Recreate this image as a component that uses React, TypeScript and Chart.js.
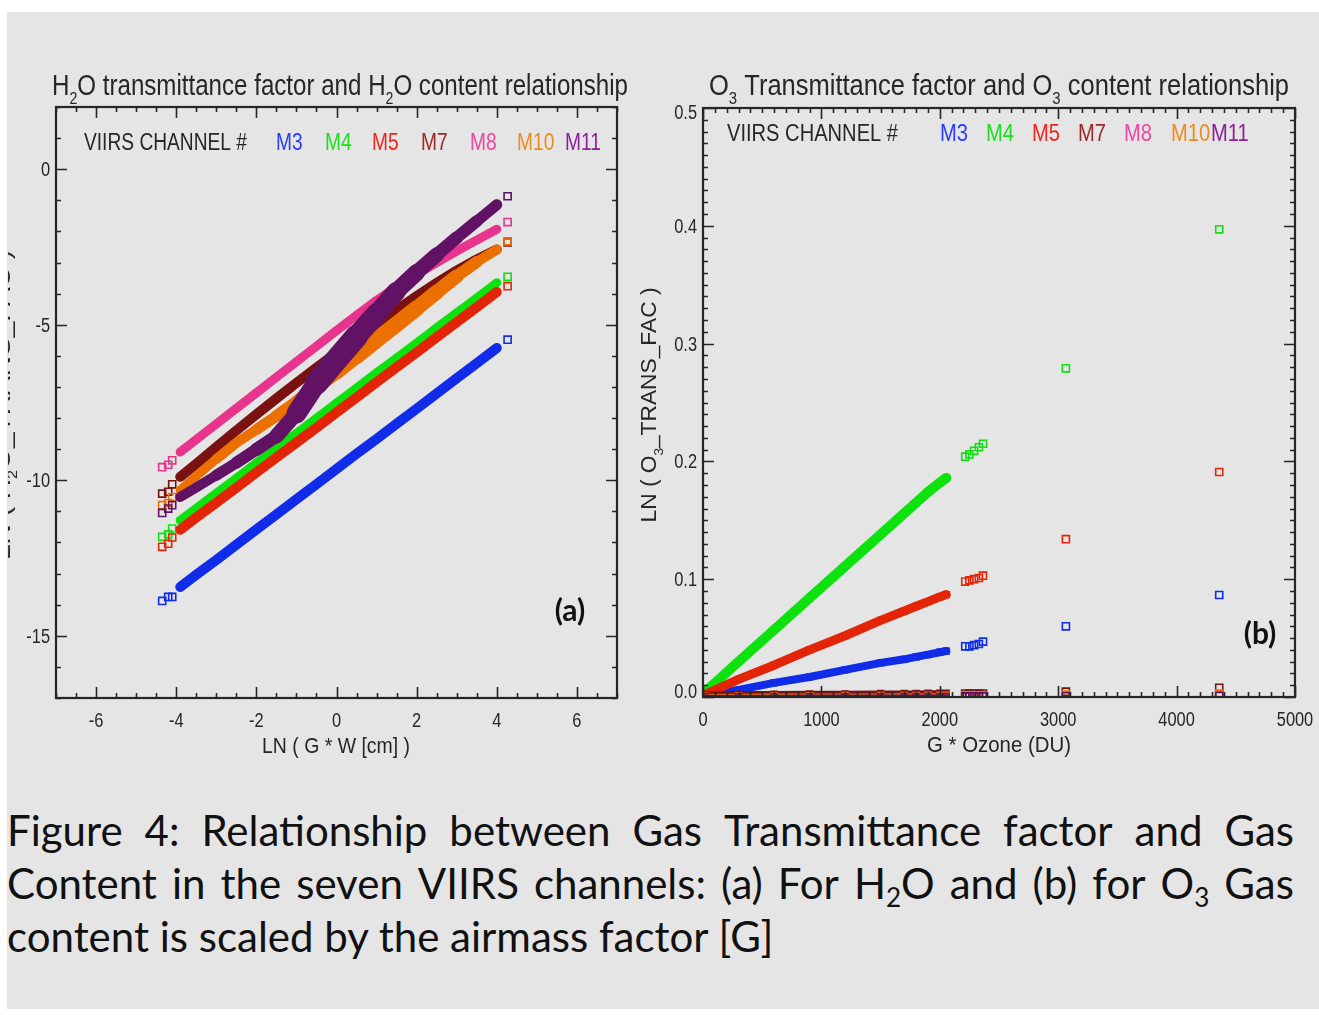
import React, { useEffect, useRef } from "react";
import { Chart, registerables } from "chart.js";
Chart.register(...registerables);

// ---------------- data ----------------
const CHANNELS = ["M3", "M4", "M5", "M7", "M8", "M10", "M11"];
const BAND_COLORS = [
  "rgb(16,44,232)",
  "rgb(14,226,14)",
  "rgb(228,36,8)",
  "rgb(122,18,18)",
  "rgb(232,52,140)",
  "rgb(236,112,0)",
  "rgb(98,18,100)",
];
const LEGEND_COLORS = [
  "rgb(40,60,250)",
  "rgb(30,220,30)",
  "rgb(238,40,30)",
  "rgb(160,40,40)",
  "rgb(238,70,160)",
  "rgb(236,140,30)",
  "rgb(140,30,150)",
];

// Panel (a): LN(G*W) vs LN(H2O_TRANS_FAC)
const H2O_X = [-3.9, -3.5, -3.0, -2.5, -2.0, -1.5, -1.0, -0.5, 0, 0.5, 1.0, 1.5, 2.0, 2.5, 3.0, 3.5, 4.0];
const H2O_M3 = [-13.43, -13.04, -12.56, -12.07, -11.58, -11.1, -10.61, -10.13, -9.64, -9.15, -8.67, -8.18, -7.7, -7.21, -6.72, -6.24, -5.75];
const H2O_M4 = [-11.29, -10.9, -10.42, -9.94, -9.45, -8.97, -8.49, -8.01, -7.52, -7.04, -6.55, -6.07, -5.59, -5.1, -4.62, -4.14, -3.65];
const H2O_M5 = [-11.59, -11.2, -10.72, -10.24, -9.75, -9.27, -8.79, -8.31, -7.82, -7.34, -6.85, -6.37, -5.89, -5.4, -4.92, -4.44, -3.95];
const H2O_M7 = [-9.89, -9.47, -8.93, -8.4, -7.88, -7.37, -6.87, -6.38, -5.9, -5.43, -4.97, -4.52, -4.08, -3.66, -3.26, -2.9, -2.58];
const H2O_M8 = [-9.09, -8.69, -8.19, -7.69, -7.19, -6.69, -6.19, -5.69, -5.19, -4.7, -4.22, -3.78, -3.38, -3.0, -2.63, -2.28, -1.93];
const H2O_M10 = [-10.32, -9.87, -9.32, -8.8, -8.37, -7.94, -7.48, -7.01, -6.52, -6.01, -5.49, -4.98, -4.47, -3.95, -3.44, -2.98, -2.58];
const H2O_M11 = [-10.54, -10.23, -9.84, -9.44, -9.01, -8.58, -7.85, -6.88, -6.12, -5.37, -4.65, -3.92, -3.32, -2.75, -2.2, -1.67, -1.14];
const H2O_EDGE_X = [-4.35, -4.2, -4.1, 4.27];
const H2O_EDGE_M3 = [-13.88, -13.75, -13.75, -5.48];
const H2O_EDGE_M4 = [-11.82, -11.74, -11.55, -3.46];
const H2O_EDGE_M5 = [-12.14, -12.04, -11.84, -3.76];
const H2O_EDGE_M7 = [-10.43, -10.37, -10.13, -2.35];
const H2O_EDGE_M8 = [-9.58, -9.5, -9.36, -1.7];
const H2O_EDGE_M10 = [-10.8, -10.73, -10.54, -2.32];
const H2O_EDGE_M11 = [-11.05, -10.91, -10.8, -0.87];
const H2O_XTICKS = [-6, -4, -2, 0, 2, 4, 6];
const H2O_XTICK_LABELS = ["-6", "-4", "-2", "0", "2", "4", "6"];
const H2O_YTICKS = [0, -5, -10, -15];
const H2O_YTICK_LABELS = ["0", "-5", "-10", "-15"];

// Panel (b): G*Ozone vs LN(O3_TRANS_FAC)
const O3_X = [15, 300, 600, 900, 1200, 1500, 1700, 1800, 1900, 2000, 2055];
const O3_M3 = [0.001, 0.006, 0.012, 0.017, 0.023, 0.029, 0.032, 0.034, 0.036, 0.038, 0.039];
const O3_M4 = [0.004, 0.03, 0.057, 0.084, 0.111, 0.138, 0.156, 0.165, 0.174, 0.182, 0.186];
const O3_M5 = [0.002, 0.015, 0.027, 0.04, 0.052, 0.065, 0.073, 0.077, 0.081, 0.085, 0.087];
const O3_M7 = [0.002, 0.0025, 0.0025, 0.0027, 0.0027, 0.003, 0.003, 0.003, 0.0032, 0.0032, 0.0033];
const O3_M8 = [0.0006, 0.0006, 0.0007, 0.0007, 0.0008, 0.0008, 0.0008, 0.0009, 0.0009, 0.0009, 0.001];
const O3_M10 = [0.001, 0.001, 0.0012, 0.0012, 0.0013, 0.0013, 0.0014, 0.0014, 0.0015, 0.0015, 0.0015];
const O3_M11 = [0.0003, 0.0003, 0.0003, 0.0004, 0.0004, 0.0004, 0.0005, 0.0005, 0.0005, 0.0005, 0.0005];
const O3_EDGE_X = [2215, 2250, 2290, 2330, 2365, 3065, 4360];
const O3_EDGE_M3 = [0.043, 0.043, 0.044, 0.045, 0.047, 0.06, 0.0866];
const O3_EDGE_M4 = [0.204, 0.206, 0.209, 0.212, 0.215, 0.279, 0.397];
const O3_EDGE_M5 = [0.098, 0.099, 0.1, 0.101, 0.103, 0.134, 0.191];
const O3_EDGE_M7 = [0.003, 0.003, 0.003, 0.003, 0.003, 0.0045, 0.0078];
const O3_EDGE_M8 = [0.001, 0.001, 0.001, 0.001, 0.001, 0.0015, 0.002];
const O3_EDGE_M10 = [0.0015, 0.0015, 0.0015, 0.0015, 0.0015, 0.002, 0.003];
const O3_EDGE_M11 = [0.0005, 0.0005, 0.0005, 0.0005, 0.0005, 0.0006, 0.0008];
const O3_XTICKS = [0, 1000, 2000, 3000, 4000, 5000];
const O3_XTICK_LABELS = ["0", "1000", "2000", "3000", "4000", "5000"];
const O3_YTICKS = [0, 0.1, 0.2, 0.3, 0.4, 0.5];
const O3_YTICK_LABELS = ["0.0", "0.1", "0.2", "0.3", "0.4", "0.5"];

// ---------------- text ----------------
type Part = [string, boolean];
const LEFT_TITLE: Part[] = [["H", false], ["2", true], ["O transmittance factor and H", false], ["2", true], ["O content relationship", false]];
const RIGHT_TITLE: Part[] = [["O", false], ["3", true], [" Transmittance factor and O", false], ["3", true], [" content relationship", false]];
const LEFT_YTITLE: Part[] = [["LN ( H", false], ["2", true], ["O_TRANS_FAC )", false]];
const RIGHT_YTITLE: Part[] = [["LN ( O", false], ["3", true], ["_TRANS_FAC )", false]];
const LEFT_XTITLE = "LN ( G * W [cm] )";
const RIGHT_XTITLE = "G * Ozone (DU)";
const LEGEND_LABEL = "VIIRS CHANNEL #";
const CAPTION_LINES = [
  ["Figure", "4:", "Relationship", "between", "Gas", "Transmittance", "factor", "and", "Gas"],
  ["Content", "in", "the", "seven", "VIIRS", "channels:", "(a)", "For", "H{2}O", "and", "(b)", "for", "O{3}", "Gas"],
  ["content", "is", "scaled", "by", "the", "airmass", "factor", "[G]"],
];

// ---------------- styles ----------------
const INK = "#262626";
const FONT_AXIS = "'Liberation Sans', Arial, Helvetica, sans-serif";
const FONT_CAPTION = "Lato, 'Open Sans', sans-serif";
const PANEL_BG = "#e5e5e5";

function setFont(ctx: CanvasRenderingContext2D, size: number, sub: boolean, bold: boolean, family: string) {
  ctx.font = `${bold ? "bold " : ""}${sub ? Math.round(size * 0.6) : size}px ${family}`;
}
function naturalWidth(ctx: CanvasRenderingContext2D, parts: Part[], size: number, bold: boolean, family: string) {
  let w = 0;
  for (const [t, s] of parts) {
    setFont(ctx, size, s, bold, family);
    w += ctx.measureText(t).width;
  }
  return w;
}
interface RichOpts {
  size: number;
  color?: string;
  width?: number;
  sx?: number;
  align?: "left" | "center" | "right";
  rotate?: boolean;
  bold?: boolean;
  family?: string;
}
function drawRich(ctx: CanvasRenderingContext2D, parts: Part[], x: number, y: number, o: RichOpts): number {
  const family = o.family ?? FONT_AXIS;
  const bold = !!o.bold;
  const nat = naturalWidth(ctx, parts, o.size, bold, family);
  const sx = o.width ? o.width / nat : o.sx ?? 1;
  const total = nat * sx;
  const start = o.align === "center" ? -total / 2 : o.align === "right" ? -total : 0;
  ctx.save();
  ctx.translate(x, y);
  if (o.rotate) ctx.rotate(-Math.PI / 2);
  ctx.translate(start, 0);
  ctx.scale(sx, 1);
  ctx.fillStyle = o.color ?? INK;
  ctx.textAlign = "left";
  ctx.textBaseline = "alphabetic";
  let cx = 0;
  for (const [t, s] of parts) {
    setFont(ctx, o.size, s, bold, family);
    ctx.fillText(t, cx, s ? o.size * 0.3 : 0);
    cx += ctx.measureText(t).width;
  }
  ctx.restore();
  return sx;
}

interface PanelCfg {
  id: string;
  left: number;
  top: number;
  width: number;
  height: number;
  padding: { left: number; top: number; right: number; bottom: number };
  xMin: number;
  xMax: number;
  yMin: number;
  yMax: number;
  xMinor: number;
  yMinor: number;
  xTicks: number[];
  xTickLabels: string[];
  yTicks: number[];
  yTickLabels: string[];
  title: Part[];
  titlePos: [number, number, number];
  legendPos: [number, number, number, number];
  legendMx: number[];
  xTitle: string;
  xTitlePos: [number, number, number];
  yTitle: Part[];
  yTitlePos: [number, number, number, number];
  letter: string;
  letterPos: [number, number];
  endLabelShift: boolean;
  xs: number[];
  bands: number[][];
  edgeXs: number[];
  edges: number[][];
  bandWidths: (number | number[])[];
  bandPointRadius: number;
  pointRadius: number;
}

const LEFT_PANEL: PanelCfg = {
  id: "h2o",
  left: 8,
  top: 12,
  width: 632,
  height: 790,
  padding: { left: 48, top: 95, right: 23, bottom: 104 },
  xMin: -7,
  xMax: 7,
  yMin: -17,
  yMax: 2,
  xMinor: 0.5,
  yMinor: 1,
  xTicks: H2O_XTICKS,
  xTickLabels: H2O_XTICK_LABELS,
  yTicks: H2O_YTICKS,
  yTickLabels: H2O_YTICK_LABELS,
  title: LEFT_TITLE,
  titlePos: [44, 83, 576],
  legendPos: [76, 138, 163, 23],
  legendMx: [268, 317, 364, 413, 462, 509, 557],
  xTitle: LEFT_XTITLE,
  xTitlePos: [328, 741, 148],
  yTitle: LEFT_YTITLE,
  yTitlePos: [2, 393, 310, 24],
  letter: "(a)",
  letterPos: [562, 609],
  endLabelShift: false,
  xs: H2O_X,
  bands: [H2O_M3, H2O_M4, H2O_M5, H2O_M7, H2O_M8, H2O_M10, H2O_M11],
  edgeXs: H2O_EDGE_X,
  edges: [H2O_EDGE_M3, H2O_EDGE_M4, H2O_EDGE_M5, H2O_EDGE_M7, H2O_EDGE_M8, H2O_EDGE_M10, H2O_EDGE_M11],
  bandWidths: [
    10,
    9,
    10,
    10,
    9,
    [9, 9, 10, 10, 11, 12, 13, 14, 15, 16, 16, 16, 15, 14, 12, 10],
    [10, 10, 11, 12, 13, 15, 20, 23, 23, 21, 19, 17, 15, 13, 12, 11],
  ],
  bandPointRadius: 3.5,
  pointRadius: 5,
};

const RIGHT_PANEL: PanelCfg = {
  id: "o3",
  left: 640,
  top: 12,
  width: 679,
  height: 790,
  padding: { left: 63, top: 96, right: 24, bottom: 105 },
  xMin: 0,
  xMax: 5000,
  yMin: 0,
  yMax: 0.5,
  xMinor: 100,
  yMinor: 0.01,
  xTicks: O3_XTICKS,
  xTickLabels: O3_XTICK_LABELS,
  yTicks: O3_YTICKS,
  yTickLabels: O3_YTICK_LABELS,
  title: RIGHT_TITLE,
  titlePos: [69, 83, 580],
  legendPos: [87, 129, 171, 24],
  legendMx: [300, 346, 392, 438, 484, 531, 571],
  xTitle: RIGHT_XTITLE,
  xTitlePos: [359, 740, 144],
  yTitle: RIGHT_YTITLE,
  yTitlePos: [16, 393, 235, 22],
  letter: "(b)",
  letterPos: [620, 632],
  endLabelShift: true,
  xs: O3_X,
  bands: [O3_M3, O3_M4, O3_M5, O3_M7, O3_M8, O3_M10, O3_M11],
  edgeXs: O3_EDGE_X,
  edges: [O3_EDGE_M3, O3_EDGE_M4, O3_EDGE_M5, O3_EDGE_M7, O3_EDGE_M8, O3_EDGE_M10, O3_EDGE_M11],
  bandWidths: [8, 10, 9, 6, 4, 4, 4],
  bandPointRadius: 4,
  pointRadius: 5,
};

function buildDatasets(p: PanelCfg) {
  const ds: any[] = [];
  const n = p.bands.length;
  p.bands.forEach((ys, i) => {
    const order = n - i;
    const w = p.bandWidths[i];
    const common = {
      pointStyle: "rect",
      pointBorderWidth: 1.6,
      pointBorderColor: BAND_COLORS[i],
      pointBackgroundColor: "rgba(0,0,0,0)",
      clip: 0,
    };
    const band: any = {
      ...common,
      label: CHANNELS[i],
      data: p.xs.map((x, k) => ({ x, y: ys[k] })),
      showLine: true,
      pointRadius: p.bandPointRadius,
      borderColor: BAND_COLORS[i],
      borderWidth: Array.isArray(w) ? w[0] : w,
      borderCapStyle: "round",
      borderJoinStyle: "round",
      order: order * 2,
    };
    if (Array.isArray(w)) band.segment = { borderWidth: (c: any) => w[c.p0DataIndex] };
    ds.push(band);
    ds.push({
      ...common,
      label: CHANNELS[i] + " ends",
      data: p.edgeXs.map((x, k) => ({ x, y: p.edges[i][k] })),
      showLine: false,
      pointRadius: p.pointRadius,
      order: order * 2 - 1,
    });
  });
  return ds;
}

function framePlugin(p: PanelCfg) {
  return {
    id: "frame_" + p.id,
    afterDraw(chart: any) {
      const ctx: CanvasRenderingContext2D = chart.ctx;
      const a = chart.chartArea;
      const xs = chart.scales.x;
      const ys = chart.scales.y;
      const isMajor = (v: number, list: number[], step: number) => list.some((t) => Math.abs(t - v) < step * 0.01);
      ctx.save();
      ctx.strokeStyle = INK;
      ctx.lineWidth = 1.6;
      ctx.beginPath();
      const nx = Math.round((p.xMax - p.xMin) / p.xMinor);
      for (let k = 0; k <= nx; k++) {
        const v = p.xMin + k * p.xMinor;
        const px = Math.round(xs.getPixelForValue(v)) + 0.5;
        const len = isMajor(v, p.xTicks, p.xMinor) ? 11 : 5;
        ctx.moveTo(px, a.bottom);
        ctx.lineTo(px, a.bottom - len);
        ctx.moveTo(px, a.top);
        ctx.lineTo(px, a.top + len);
      }
      const ny = Math.round((p.yMax - p.yMin) / p.yMinor);
      for (let k = 0; k <= ny; k++) {
        const v = p.yMin + k * p.yMinor;
        const py = Math.round(ys.getPixelForValue(v)) + 0.5;
        const len = isMajor(v, p.yTicks, p.yMinor) ? 11 : 5;
        ctx.moveTo(a.left, py);
        ctx.lineTo(a.left + len, py);
        ctx.moveTo(a.right, py);
        ctx.lineTo(a.right - len, py);
      }
      ctx.stroke();
      ctx.lineWidth = 2.2;
      ctx.strokeRect(a.left, a.top, a.right - a.left, a.bottom - a.top);

      // tick labels
      p.xTicks.forEach((v, k) => {
        drawRich(ctx, [[p.xTickLabels[k], false]], xs.getPixelForValue(v), a.bottom + 29, { size: 20, sx: 0.82, align: "center" });
      });
      p.yTicks.forEach((v, k) => {
        let py = ys.getPixelForValue(v);
        if (p.endLabelShift) {
          if (v === p.yMax) py += 4;
          if (v === p.yMin) py -= 6;
        }
        drawRich(ctx, [[p.yTickLabels[k], false]], a.left - 6, py + 7, { size: 20, sx: 0.82, align: "right" });
      });

      // title
      drawRich(ctx, p.title, p.titlePos[0], p.titlePos[1], { size: 29, width: p.titlePos[2] });
      // legend
      const [lx, ly, lw, ls] = p.legendPos;
      const sx = drawRich(ctx, [[LEGEND_LABEL, false]], lx, ly, { size: ls, width: lw });
      CHANNELS.forEach((c, i) => {
        drawRich(ctx, [[c, false]], p.legendMx[i], ly, { size: ls, sx, color: LEGEND_COLORS[i] });
      });
      // axis titles
      drawRich(ctx, [[p.xTitle, false]], p.xTitlePos[0], p.xTitlePos[1], { size: 22, width: p.xTitlePos[2], align: "center" });
      drawRich(ctx, p.yTitle, p.yTitlePos[0], p.yTitlePos[1], { size: p.yTitlePos[3], width: p.yTitlePos[2], align: "center", rotate: true });
      // panel letter
      drawRich(ctx, [[p.letter, false]], p.letterPos[0], p.letterPos[1], { size: 30, bold: true, align: "center", family: FONT_CAPTION, color: "#111" });
      ctx.restore();
    },
  };
}

function Panel({ cfg }: { cfg: PanelCfg }) {
  const ref = useRef<HTMLCanvasElement | null>(null);
  useEffect(() => {
    if (!ref.current) return;
    const chart = new Chart(ref.current, {
      type: "scatter",
      data: { datasets: buildDatasets(cfg) },
      options: {
        animation: false,
        responsive: false,
        events: [],
        layout: { padding: cfg.padding },
        plugins: { legend: { display: false }, tooltip: { enabled: false }, title: { display: false } },
        scales: {
          x: { type: "linear", min: cfg.xMin, max: cfg.xMax, display: false },
          y: { type: "linear", min: cfg.yMin, max: cfg.yMax, display: false },
        },
      } as any,
      plugins: [framePlugin(cfg)],
    });
    return () => chart.destroy();
  }, [cfg]);
  return (
    <canvas
      ref={ref}
      width={cfg.width}
      height={cfg.height}
      style={{ position: "absolute", left: cfg.left, top: cfg.top, width: cfg.width, height: cfg.height }}
    />
  );
}

function Word({ w }: { w: string }) {
  const parts = w.split(/\{(\d)\}/);
  return (
    <span>
      {parts.map((t, i) =>
        i % 2 === 1 ? (
          <span key={i} style={{ fontSize: "0.62em", position: "relative", top: "0.32em" }}>
            {t}
          </span>
        ) : (
          <span key={i}>{t}</span>
        )
      )}
    </span>
  );
}

export default function App() {
  return (
    <div style={{ position: "absolute", left: 0, top: 0, width: 1319, height: 1015, background: "#ffffff" }}>
      <div style={{ position: "absolute", left: 7, top: 12, width: 1312, height: 997, background: PANEL_BG }} />
      <Panel cfg={LEFT_PANEL} />
      <Panel cfg={RIGHT_PANEL} />
      <div
        style={{
          position: "absolute",
          left: 7,
          top: 804,
          width: 1287,
          fontFamily: FONT_CAPTION,
          fontSize: 42,
          lineHeight: "53px",
          color: "#111",
          whiteSpace: "nowrap",
        }}
      >
        {CAPTION_LINES.map((words, li) =>
          li < 2 ? (
            <div key={li} style={{ display: "flex", justifyContent: "space-between", height: 53 }}>
              {words.map((w, k) => (
                <Word key={k} w={w} />
              ))}
            </div>
          ) : (
            <div key={li} style={{ height: 53 }}>
              {words.map((w, k) => (
                <React.Fragment key={k}>
                  {k > 0 ? " " : ""}
                  <Word w={w} />
                </React.Fragment>
              ))}
            </div>
          )
        )}
      </div>
    </div>
  );
}
